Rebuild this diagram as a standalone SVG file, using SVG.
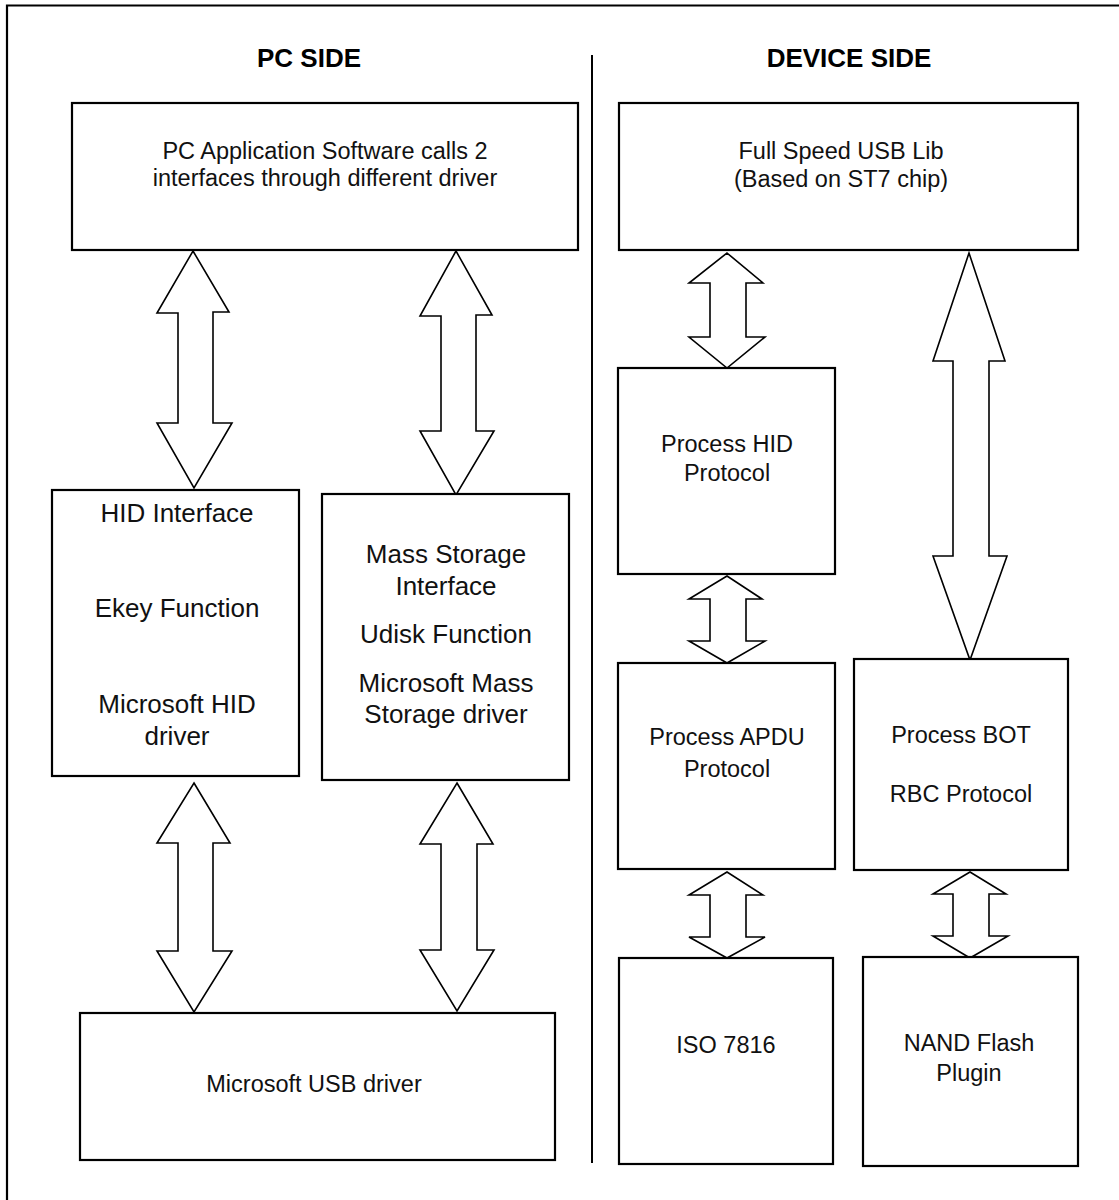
<svg xmlns="http://www.w3.org/2000/svg" width="1119" height="1200" viewBox="0 0 1119 1200">
  <style>
    .box { fill: #fff; stroke: #000; stroke-width: 2.2; }
    .frame { fill: none; stroke: #000; stroke-width: 2.2; }
    .arrow { fill: #fff; stroke: #000; stroke-width: 1.6; stroke-linejoin: miter; }
    .title { font-family: "Liberation Sans", Arial, sans-serif; font-size: 26px; font-weight: bold; text-anchor: middle; fill: #000; }
    .t { font-family: "Liberation Sans", Arial, sans-serif; font-size: 23.5px; text-anchor: middle; fill: #111; }
    .tl { font-family: "Liberation Sans", Arial, sans-serif; font-size: 26px; text-anchor: middle; fill: #111; }
  </style>
  <rect width="1119" height="1200" fill="#fff"/>

  <!-- outer frame and the PC / device divider -->
  <path class="frame" d="M7,1200 V5.5 H1119"/>
  <line x1="592" y1="55" x2="592" y2="1163" stroke="#000" stroke-width="2"/>

  <text class="title" x="309" y="67">PC SIDE</text>
  <text class="title" x="849" y="67">DEVICE SIDE</text>

  <!-- double-headed block arrows -->
  <g id="connectors">
    <path class="arrow" d="M193,251 L229,312 L213,312 L213,423 L232,423 L194,488 L157,423 L178,423 L178,313 L157,313 Z"/>
    <path class="arrow" d="M456,251 L492,315 L476,315 L476,431 L494,431 L456,495 L420,431 L441,431 L441,316 L420,316 Z"/>
    <path class="arrow" d="M194,783 L230,843 L213,843 L213,951 L232,951 L194,1012 L157,951 L178,951 L178,843 L157,843 Z"/>
    <path class="arrow" d="M457,783 L493,844 L477,844 L477,950 L494,950 L457,1011 L420,950 L441,950 L441,844 L420,844 Z"/>
    <path class="arrow" d="M727,253 L763,283 L746,283 L746,337 L765,337 L727,368 L689,337 L710,337 L710,283 L689,283 Z"/>
    <path class="arrow" d="M969,253 L1005,361 L989,361 L989,556 L1007,556 L970,660 L933,556 L953,556 L953,361 L933,361 Z"/>
    <path class="arrow" d="M727,576 L762,599 L746,599 L746,641 L765,641 L727,663 L689,641 L710,641 L710,599 L689,599 Z"/>
    <path class="arrow" d="M727,872 L763,895 L746,895 L746,937 L765,937 L727,958 L689,937 L710,937 L710,895 L689,895 Z"/>
    <path class="arrow" d="M970,872 L1006,894 L989,894 L989,936 L1008,936 L970,958 L933,936 L953,936 L953,894 L933,894 Z"/>
  </g>

  <g id="pc-app">
    <rect class="box" x="72" y="103" width="506" height="147"/>
    <text class="t" x="325" y="159">PC Application Software calls 2</text>
    <text class="t" x="325" y="186">interfaces through different driver</text>
  </g>

  <g id="hid-interface">
    <rect class="box" x="52" y="490" width="247" height="286"/>
    <text class="tl" x="177" y="522">HID Interface</text>
    <text class="tl" x="177" y="617">Ekey Function</text>
    <text class="tl" x="177" y="713">Microsoft HID</text>
    <text class="tl" x="177" y="745">driver</text>
  </g>

  <g id="mass-storage">
    <rect class="box" x="322" y="494" width="247" height="286"/>
    <text class="tl" x="446" y="563">Mass Storage</text>
    <text class="tl" x="446" y="595">Interface</text>
    <text class="tl" x="446" y="643">Udisk Function</text>
    <text class="tl" x="446" y="692">Microsoft Mass</text>
    <text class="tl" x="446" y="723">Storage driver</text>
  </g>

  <g id="usb-driver">
    <rect class="box" x="80" y="1013" width="475" height="147"/>
    <text class="t" x="314" y="1092">Microsoft USB driver</text>
  </g>

  <g id="usb-lib">
    <rect class="box" x="619" y="103" width="459" height="147"/>
    <text class="t" x="841" y="159">Full Speed USB Lib</text>
    <text class="t" x="841" y="187">(Based on ST7 chip)</text>
  </g>

  <g id="hid-protocol">
    <rect class="box" x="618" y="368" width="217" height="206"/>
    <text class="t" x="727" y="452">Process HID</text>
    <text class="t" x="727" y="481">Protocol</text>
  </g>

  <g id="apdu-protocol">
    <rect class="box" x="618" y="663" width="217" height="206"/>
    <text class="t" x="727" y="745">Process APDU</text>
    <text class="t" x="727" y="777">Protocol</text>
  </g>

  <g id="bot-protocol">
    <rect class="box" x="854" y="659" width="214" height="211"/>
    <text class="t" x="961" y="743">Process BOT</text>
    <text class="t" x="961" y="802">RBC Protocol</text>
  </g>

  <g id="iso7816">
    <rect class="box" x="619" y="958" width="214" height="206"/>
    <text class="t" x="726" y="1053">ISO 7816</text>
  </g>

  <g id="nand-flash">
    <rect class="box" x="863" y="957" width="215" height="209"/>
    <text class="t" x="969" y="1051">NAND Flash</text>
    <text class="t" x="969" y="1081">Plugin</text>
  </g>
</svg>
